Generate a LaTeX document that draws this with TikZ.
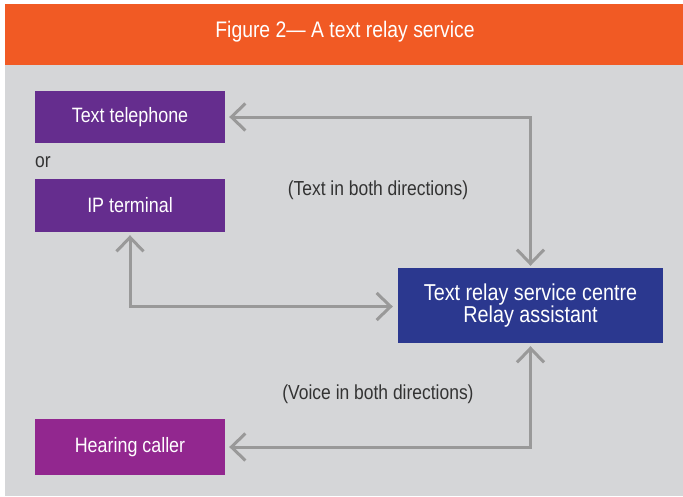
\documentclass[tikz,border=0pt]{standalone}
\usepackage{fontspec}
\setmainfont{Liberation Sans}[FakeStretch=0.86]
\usetikzlibrary{arrows.meta}
\definecolor{hdrorange}{HTML}{F15A24}
\definecolor{bggrey}{HTML}{D5D6D8}
\definecolor{boxpurple}{HTML}{652D8E}
\definecolor{boxblue}{HTML}{2B388F}
\definecolor{boxmagenta}{HTML}{92278F}
\definecolor{arrgrey}{HTML}{999999}
\definecolor{txtgrey}{HTML}{333333}
\tikzset{
  devbox/.style={rectangle, fill=boxpurple, text=white, minimum width=190pt, inner sep=0pt,
    font=\fontsize{20.8}{22}\selectfont},
  centrebox/.style={rectangle, fill=boxblue, text=white, minimum width=265pt, minimum height=75pt,
    inner sep=0pt, align=center, font=\fontsize{23}{20.5}\selectfont},
  lbl/.style={text=txtgrey, inner sep=0pt, font=\fontsize{20.3}{22}\selectfont},
  arr/.style={draw=arrgrey, line width=3pt, {Straight Barb[length=14pt,width=27pt]}-{Straight Barb[length=14pt,width=27pt]}}
}
\begin{document}
\begin{tikzpicture}[x=1pt,y=-1pt]
\useasboundingbox (0,0) rectangle (683,496);
\fill[white] (0,0) rectangle (683,496);
\fill[bggrey] (5,65) rectangle (683,496);
\fill[hdrorange] (5,4) rectangle (683,65);
\node[text=white, font=\fontsize{22.5}{24}\selectfont, inner sep=0pt] (title) at (345,32) {Figure 2— A text relay service};

\node[devbox, minimum height=52pt] (tt) at (130,117) {Text telephone};
\node[lbl, anchor=west] (or) at (35,162) {or};
\node[devbox, minimum height=53pt] (ip) at (130,205.5) {IP terminal};
\node[devbox, fill=boxmagenta, minimum height=56pt] (hc) at (130,447) {Hearing caller};
\node[centrebox] (rc) at (530.5,305.5) {Text relay service centre\\Relay assistant};

\node[lbl] (l1) at (378,190) {(Text in both directions)};
\node[lbl] (l2) at (378,394) {(Voice in both directions)};

\draw[arr] ([xshift=4pt]tt.east) -| ([yshift=2pt]rc.north);
\draw[arr] ([yshift=-3pt]ip.south) |- ([xshift=-5pt,yshift=-1pt]rc.west);
\draw[arr] ([xshift=4pt]hc.east) -| ([yshift=-3pt]rc.south);
\end{tikzpicture}
\end{document}
